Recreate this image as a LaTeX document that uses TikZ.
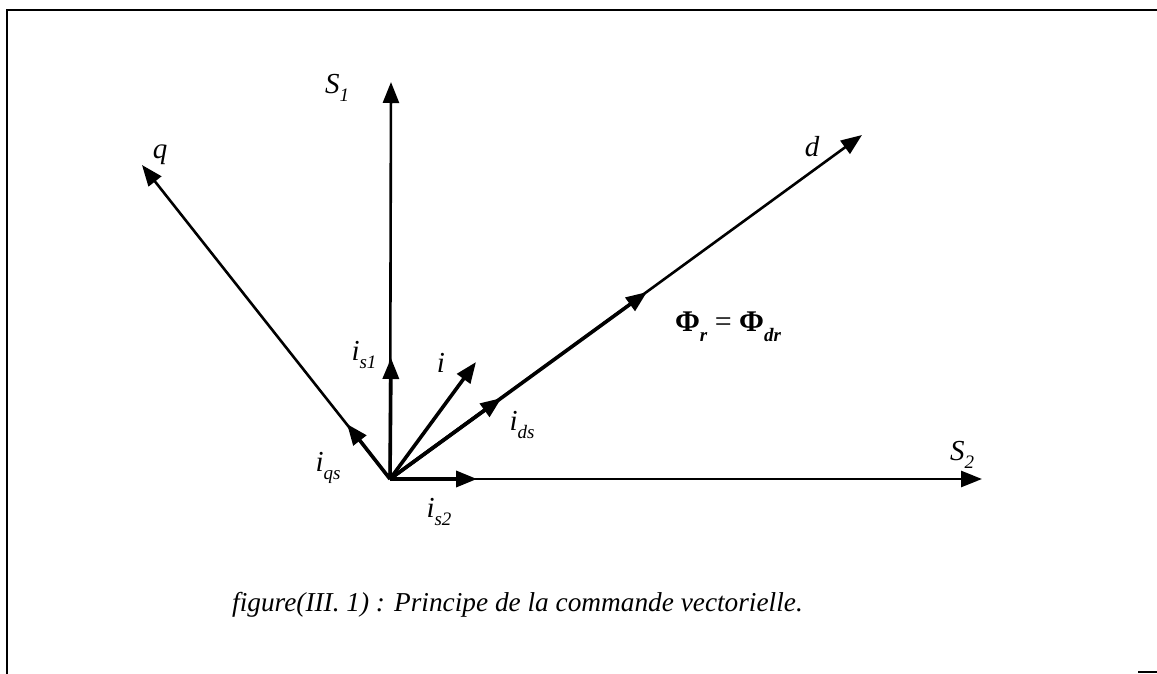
\documentclass[tikz,border=0pt]{standalone}
\usepackage{fontspec}
\setmainfont{Liberation Serif}
\usetikzlibrary{arrows.meta}
\newcommand\sbs[1]{\raisebox{-0.3em}{\fontsize{19}{19}\selectfont\itshape #1}}
\newcommand\sbu[1]{\raisebox{-0.3em}{\fontsize{19}{19}\selectfont #1}}
\begin{document}
\begin{tikzpicture}[x=1pt,y=-1pt,
  axis/.style={line width=2.6pt,-{Triangle[length=21pt,width=16pt]}},
  vec/.style={line width=3.6pt,-{Triangle[length=21pt,width=16pt]}},
  lbl/.style={font=\fontsize{29}{29}\selectfont\itshape, inner sep=0pt},
  frame/.style={line width=2.4pt}]
\useasboundingbox (0,0) rectangle (1157,674);
\draw[frame] (1157,10) -- (7,10) -- (7,674);
\draw[frame] (1138,672) -- (1157,672);
% points
\coordinate (O) at (390,479);
\coordinate (S1tip) at (391,82);
\coordinate (S2tip) at (982,479);
\coordinate (qtip) at (142,165);
\coordinate (dtip) at (862,135);
\coordinate (is1tip) at (391,358);
\coordinate (is2tip) at (477,479);
\coordinate (iqstip) at (347,424);
\coordinate (itip) at (476,362);
\coordinate (idstip) at (501.5,398);
\coordinate (phitip) at (647,292);
% axes
\draw[axis] (O) -- (S1tip);
\draw[axis] (O) -- (S2tip);
\draw[axis] (O) -- (qtip);
\draw[axis] (O) -- (dtip);
% vectors
\draw[vec] (O) -- (is1tip);
\draw[vec] (O) -- (is2tip);
\draw[vec] (O) -- (iqstip);
\draw[vec] (O) -- (itip);
\draw[vec] (O) -- (idstip);
\draw[vec] (O) -- (phitip);
% labels
\node[lbl] (lS1) at (337,88) {S\sbu{1}};
\node[lbl] (lS2) at (962,455) {S\sbu{2}};
\node[lbl] (lq) at (160,155) {q};
\node[lbl] (ld) at (812,147) {d};
\node[lbl] (lis1) at (364,355) {i\sbs{s1}};
\node[lbl] (li) at (441,363) {i};
\node[lbl] (lids) at (522,425) {i\sbs{ds}};
\node[lbl] (liqs) at (328,468) {i\sbs{qs}};
\node[lbl] (lis2) at (439,512) {i\sbs{s2}};
\node[inner sep=0pt, font=\fontsize{30}{30}\selectfont] (lphi) at (728,327)
  {\textbf{Φ}\raisebox{-0.35em}{\fontsize{19}{19}\selectfont\bfseries\itshape r} = \textbf{Φ}\raisebox{-0.35em}{\fontsize{19}{19}\selectfont\bfseries\itshape dr}};
\node[anchor=west, inner sep=0pt, font=\fontsize{27.3}{27.3}\selectfont\itshape] (cap) at (232,605)
  {figure(III. 1) : Principe de la commande vectorielle.};
\end{tikzpicture}
\end{document}
